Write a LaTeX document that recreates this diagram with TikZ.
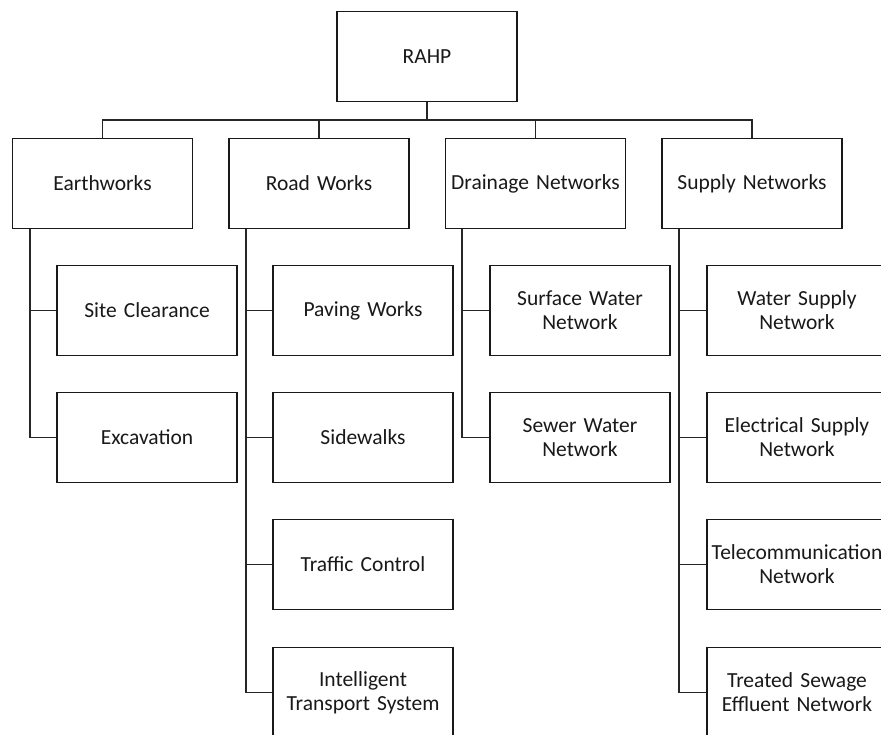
\documentclass[tikz,border=0pt]{standalone}
\usepackage{fontspec}
\setmainfont{Carlito}
\begin{document}
\begin{tikzpicture}[x=1pt,y=-1pt,
  box/.style={draw=black!90, line width=1.5pt, fill=white, text width=180pt, inner xsep=0pt, inner ysep=0pt,
    minimum height=90pt, align=center, font=\fontsize{21.5}{24}\selectfont, text=black!90},
  link/.style={draw=black!85, line width=1.7pt}]
\clip (0,0) rectangle (881,734);
\useasboundingbox (0,0) rectangle (881,734);
\fill[white] (0,0) rectangle (881,734);

\node[box] (root) at (427,56.5) {RAHP};

\node[box] (earth) at (102.5,183.5) {Earthworks};
\node[box] (road) at (319,183.5) {Road Works};
\node[box] (drain) at (535.5,183.5) {Drainage Networks};
\node[box] (supply) at (752,183.5) {Supply Networks};

\node[box] (site) at (147,310.5) {Site Clearance};
\node[box] (exca) at (147,437.5) {Excavation};

\node[box] (pave) at (363,310.5) {Paving Works};
\node[box] (side) at (363,437.5) {Sidewalks};
\node[box] (traf) at (363,564.5) {Traffic Control};
\node[box] (its) at (363,692.5) {Intelligent\\Transport System};

\node[box] (surf) at (580,310.5) {Surface Water\\Network};
\node[box] (sewer) at (580,437.5) {Sewer Water\\Network};

\node[box] (water) at (797,310.5) {Water Supply\\Network};
\node[box] (elec) at (797,437.5) {Electrical Supply\\Network};
\node[box] (tele) at (797,564.5) {Telecommunication\\Network};
\node[box] (tse) at (797,692.5) {Treated Sewage\\Effluent Network};

\foreach \c in {earth,road,drain,supply}
  \draw[link] (root.south) -- ++(0,17.5) -| (\c.north);

\foreach \c in {site,exca}
  \draw[link] (earth.south west) ++(18,0) |- (\c.west);
\foreach \c in {pave,side,traf,its}
  \draw[link] (road.south west) ++(18,0) |- (\c.west);
\foreach \c in {surf,sewer}
  \draw[link] (drain.south west) ++(17,0) |- (\c.west);
\foreach \c in {water,elec,tele,tse}
  \draw[link] (supply.south west) ++(18,0) |- (\c.west);
\end{tikzpicture}
\end{document}
